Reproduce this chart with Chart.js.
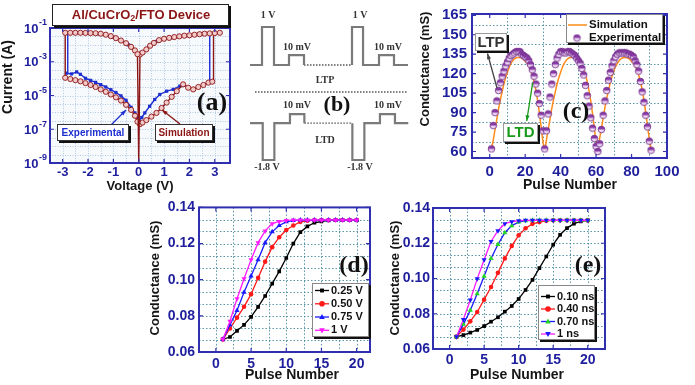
<!DOCTYPE html>
<html>
<head>
<meta charset="utf-8">
<script src="https://cdn.jsdelivr.net/npm/chart.js@4.4.1/dist/chart.umd.min.js"></script>
<style>
html, body { margin: 0; padding: 0; background: #fff; }
#fig { position: relative; width: 695px; height: 385px; overflow: hidden; }
#fig canvas { position: absolute; }
</style>
</head>
<body>
<div id="fig">
  <canvas id="pa" width="235" height="195" style="left:0;top:0"></canvas>
  <canvas id="pb" width="175" height="195" style="left:235px;top:0"></canvas>
  <canvas id="pc" width="285" height="195" style="left:410px;top:0"></canvas>
  <canvas id="pd" width="240" height="190" style="left:140px;top:195px"></canvas>
  <canvas id="pe" width="315" height="190" style="left:380px;top:195px"></canvas>
</div>
<script>
// ---- (a) I-V loop, Al/CuCrO2/FTO ----
const simUpNegV = [-2.9, -2.7, -2.5, -2.3, -2.1, -1.9, -1.7, -1.5, -1.3, -1.1, -0.9, -0.7, -0.5, -0.3, -0.15, -0.05];
const simUpNegI = [5.2e-2, 5.2e-2, 5.2e-2, 5.2e-2, 5.1e-2, 5.0e-2, 4.9e-2, 4.6e-2, 4.0e-2, 3.3e-2, 2.5e-2, 1.8e-2, 1.26e-2, 7.6e-3, 4.7e-3, 2.8e-3];
const simUpPosV = [0.05, 0.15, 0.3, 0.45, 0.6, 0.8, 1.0, 1.2, 1.4, 1.6, 1.8, 2.0, 2.2, 2.4, 2.6, 2.8, 3.0, 3.2];
const simUpPosI = [2.7e-3, 3.5e-3, 5.4e-3, 8.9e-3, 1.3e-2, 1.9e-2, 2.3e-2, 2.6e-2, 2.9e-2, 3.2e-2, 3.5e-2, 3.7e-2, 4.0e-2, 4.3e-2, 4.6e-2, 4.8e-2, 5.0e-2, 5.2e-2];
const simDipV = [-0.05, 0, 0.05];
const simDipI = [2.8e-3, 1.2e-9, 2.7e-3];
const simLowNegV = [-2.9, -2.7, -2.5, -2.3, -2.1, -1.9, -1.7, -1.5, -1.3, -1.1, -0.9, -0.7, -0.5, -0.3, -0.15, -0.05];
const simLowNegI = [1.12e-4, 9.5e-5, 8.1e-5, 6.9e-5, 5.4e-5, 4.2e-5, 3.2e-5, 2.3e-5, 1.66e-5, 1.15e-5, 7.8e-6, 5.0e-6, 2.8e-6, 1.4e-6, 6.3e-7, 2.8e-7];
const simLowPosV = [0.05, 0.15, 0.3, 0.5, 0.7, 0.9, 1.1, 1.3, 1.5, 1.75, 1.95, 2.15, 2.35, 2.55, 2.75, 2.9];
const simLowPosI = [2.0e-7, 2.5e-7, 3.5e-7, 5.6e-7, 9.3e-7, 1.8e-6, 3.8e-6, 8.3e-6, 1.8e-5, 4.6e-5, 2.9e-5, 2.3e-5, 3.2e-5, 4.2e-5, 5.8e-5, 6.6e-5];
const simJumpLV = [-2.9, -2.9], simJumpLI = [5.2e-2, 1.12e-4];
const simJumpRV = [2.95, 2.95], simJumpRI = [6.6e-5, 4.9e-2];

const expUpNegV = [-2.8, -2.5, -2.2, -1.9, -1.6, -1.3, -1.0, -0.7, -0.4, -0.15];
const expUpNegI = [5.1e-2, 5.1e-2, 5.0e-2, 4.9e-2, 4.6e-2, 3.9e-2, 2.8e-2, 1.8e-2, 1.0e-2, 4.6e-3];
const expUpPosV = [0.15, 0.4, 0.7, 1.0, 1.3, 1.6, 1.9, 2.2, 2.5, 2.8];
const expUpPosI = [3.6e-3, 8.0e-3, 1.6e-2, 2.3e-2, 2.7e-2, 3.2e-2, 3.6e-2, 4.0e-2, 4.4e-2, 4.8e-2];
const expLowNegV = [-2.85, -2.65, -2.45, -2.3, -2.1, -1.9, -1.7, -1.5, -1.3, -1.1, -0.9, -0.7, -0.5, -0.3, -0.15, 0];
const expLowNegI = [2.1e-4, 1.9e-4, 2.5e-4, 1.8e-4, 1.05e-4, 7.9e-5, 6.0e-5, 4.4e-5, 3.2e-5, 2.2e-5, 1.5e-5, 9.5e-6, 5.2e-6, 2.0e-6, 9.3e-7, 3.2e-7];
const expLowPosV = [0, 0.12, 0.24, 0.43, 0.63, 0.83, 1.1, 1.36, 1.62, 1.75, 1.95, 2.15, 2.35, 2.55, 2.8];
const expLowPosI = [3.2e-7, 5.0e-7, 9.3e-7, 2.3e-6, 5.8e-6, 1.15e-5, 1.8e-5, 2.3e-5, 3.6e-5, 4.4e-5, 2.9e-5, 2.4e-5, 3.2e-5, 4.2e-5, 6.0e-5];
const expJumpLV = [-2.8, -2.8], expJumpLI = [2.1e-4, 5.1e-2];
const expJumpRV = [2.8, 2.8], expJumpRI = [6.0e-5, 4.8e-2];

const aTicksX = [-3, -2, -1, 0, 1, 2, 3];
const aDecades = [-1, -3, -5, -7, -9];

// ---- (b) pulse scheme (time in pulse units, level in display units) ----
const ltpT1 = [1.25, 2.25, 2.25, 3.25, 3.25, 4.5, 4.5, 5.75, 5.75];
const ltpL1 = [0, 0, 1, 1, 0, 0, 0.26, 0.26, 0];
const ltpGapT = [5.75, 9.75], ltpGapL = [0, 0];
const ltpT2 = [9.75, 9.75, 10.67, 10.67, 12.0, 12.0, 13.25, 13.25, 14.42];
const ltpL2 = [0, 1, 1, 0, 0, 0.26, 0.26, 0, 0];
const ltdT1 = [1.25, 2.31, 2.31, 3.28, 3.28, 4.58, 4.58, 5.78, 5.78];
const ltdL1 = [0, 0, -0.97, -0.97, 0, 0, 0.24, 0.24, 0];
const ltdGapT = [5.78, 9.78], ltdGapL = [0, 0];
const ltdT2 = [9.78, 9.78, 10.78, 10.78, 12.08, 12.08, 13.33, 13.33, 14.44];
const ltdL2 = [0, -0.97, -0.97, 0, 0, 0.24, 0.24, 0, 0];
const LTD_OFFSET = -1.53;
const sepT = [1.67, 14.42], sepL = [-0.71, -0.71];

// ---- (c) LTP / LTD cycles ----
const pulses = Array.from({ length: 91 }, (_, i) => i + 1);
const expG = [62, 80, 90, 99, 107, 113, 118, 122, 126, 129, 132, 134, 135, 136, 137, 137, 137, 135, 134, 133, 132, 130, 127, 123, 118, 112, 105, 97, 88, 76, 62,
  76, 89, 102, 112, 120, 127, 132, 135, 137, 137, 136, 136, 137, 137, 136, 135, 134, 132, 130, 128, 124, 119, 111, 103, 95, 86, 78, 70, 64, 60,
  66, 77, 88, 99, 107, 115, 121, 126, 130, 133, 135, 136, 136, 136, 136, 136, 135, 135, 134, 133, 130, 127, 122, 114, 106, 98, 88, 79, 68, 61];
const simG = [62, 69, 77, 85, 93, 100, 106, 112, 117, 121, 125, 128, 130, 131.5, 132.3, 132.5, 132.5, 132, 131, 129.5, 128, 126, 123, 119, 114, 107.5, 99.5, 90, 79, 68, 62,
  69, 77, 85, 93, 100, 106, 112, 117, 121, 125, 128, 130, 131.5, 132.3, 132.5, 132.5, 132, 131, 129.5, 128, 126, 123, 119, 114, 107, 99, 89, 78, 68, 64,
  70, 78, 86, 94, 101, 107, 113, 118, 122, 125.5, 128, 130, 131.5, 132.3, 132.5, 132.5, 132, 131, 129.5, 128, 126, 123, 119, 114, 107.5, 99.5, 90, 79.5, 70, 62];
const cTicksX = [0, 20, 40, 60, 80, 100];
const cTicksY = [60, 75, 90, 105, 120, 135, 150, 165];
const cGridX = [10, 30, 50, 70, 90];
const cGridY = [67.5, 82.5, 97.5, 112.5, 127.5, 142.5, 157.5];

// ---- (d) pulse amplitude, (e) pulse width ----
const pulse20 = [1, 2, 3, 4, 5, 6, 7, 8, 9, 10, 11, 12, 13, 14, 15, 16, 17, 18, 19, 20];
const d025 = [0.067, 0.0683, 0.0717, 0.075, 0.0794, 0.085, 0.091, 0.0978, 0.1046, 0.112, 0.12, 0.1263, 0.1295, 0.1315, 0.1322, 0.1328, 0.133, 0.133, 0.133, 0.133];
const d050 = [0.067, 0.073, 0.079, 0.085, 0.092, 0.101, 0.110, 0.118, 0.1235, 0.1275, 0.130, 0.132, 0.1326, 0.133, 0.133, 0.133, 0.133, 0.133, 0.133, 0.133];
const d075 = [0.067, 0.075, 0.083, 0.093, 0.102, 0.111, 0.1205, 0.1265, 0.130, 0.132, 0.1328, 0.133, 0.133, 0.133, 0.133, 0.133, 0.133, 0.133, 0.133, 0.133];
const d100 = [0.067, 0.077, 0.0895, 0.1005, 0.111, 0.1205, 0.127, 0.131, 0.1322, 0.1328, 0.133, 0.133, 0.133, 0.133, 0.133, 0.133, 0.133, 0.133, 0.133, 0.133];
const e010 = [0.067, 0.0679, 0.0693, 0.0708, 0.073, 0.0755, 0.078, 0.0812, 0.0844, 0.0884, 0.0935, 0.0992, 0.1059, 0.1125, 0.1192, 0.1248, 0.1286, 0.1311, 0.1324, 0.133];
const e040 = [0.067, 0.071, 0.0757, 0.081, 0.088, 0.0952, 0.1032, 0.1114, 0.1185, 0.1245, 0.1285, 0.131, 0.132, 0.1327, 0.133, 0.133, 0.133, 0.133, 0.133, 0.133];
const e070 = [0.067, 0.074, 0.082, 0.0914, 0.1013, 0.1114, 0.1193, 0.126, 0.130, 0.132, 0.1328, 0.133, 0.133, 0.133, 0.133, 0.133, 0.133, 0.133, 0.133, 0.133];
const e100 = [0.067, 0.0768, 0.0878, 0.0998, 0.1106, 0.121, 0.1271, 0.1311, 0.1322, 0.1328, 0.133, 0.133, 0.133, 0.133, 0.133, 0.133, 0.133, 0.133, 0.133, 0.133];
const dLabels = ['0.25 V', '0.50 V', '0.75 V', '1 V'];
const eLabels = ['0.10 ns', '0.40 ns', '0.70 ns', '1 ns'];
const deTicksX = [0, 5, 10, 15, 20];
const deTicksY = [0.06, 0.08, 0.10, 0.12, 0.14];
const deGridX = [0, 2.5, 5, 7.5, 10, 12.5, 15, 17.5, 20];
const deGridY = [0.0667, 0.0733, 0.08, 0.0867, 0.0933, 0.10, 0.1067, 0.1133, 0.12, 0.1267, 0.1333];

// ---------------------------------------------------------------
const SANS = '"Liberation Sans", Arial, sans-serif';
const SERIF = '"Liberation Serif", "Times New Roman", serif';
const TICK_BLUE = '#1f1f9e';
const FRAME_BLUE = '#2f2fb0';
const TITLE = '#151515';

function pts(xs, ys, off) { return xs.map((x, i) => ({ x: x, y: ys[i] + (off || 0) })); }
function series(xs, ys, style, extra) {
  return Object.assign({ data: pts(xs, ys), showLine: true }, style, extra || {});
}

function txt(ctx, s, x, y, size, color, o) {
  o = o || {};
  ctx.save();
  ctx.font = (o.weight || 'bold') + ' ' + size + 'px ' + (o.family || SANS);
  ctx.fillStyle = color;
  ctx.textAlign = o.align || 'center';
  ctx.textBaseline = 'middle';
  if (o.rotate) { ctx.translate(x, y); ctx.rotate(o.rotate); ctx.fillText(s, 0, 0); }
  else ctx.fillText(s, x, y);
  ctx.restore();
}
function shadowBox(ctx, x, y, w, h, edge) {
  ctx.save();
  ctx.fillStyle = '#111'; ctx.fillRect(x + 2, y + 2, w, h);
  ctx.fillStyle = '#fff'; ctx.fillRect(x, y, w, h);
  ctx.strokeStyle = edge; ctx.lineWidth = 1; ctx.strokeRect(x + 0.5, y + 0.5, w - 1, h - 1);
  ctx.restore();
}
function arrow(ctx, x1, y1, x2, y2, color, w) {
  const a = Math.atan2(y2 - y1, x2 - x1), L = 6;
  ctx.save(); ctx.strokeStyle = color; ctx.fillStyle = color; ctx.lineWidth = w || 1.3;
  ctx.beginPath(); ctx.moveTo(x1, y1); ctx.lineTo(x2, y2); ctx.stroke();
  ctx.beginPath(); ctx.moveTo(x2, y2);
  ctx.lineTo(x2 - L * Math.cos(a - 0.35), y2 - L * Math.sin(a - 0.35));
  ctx.lineTo(x2 - L * Math.cos(a + 0.35), y2 - L * Math.sin(a + 0.35));
  ctx.closePath(); ctx.fill(); ctx.restore();
}
function gridLines(chart, xs, ys, color, dash) {
  const { ctx, chartArea: a, scales: { x, y } } = chart;
  ctx.save(); ctx.strokeStyle = color; ctx.lineWidth = 1; ctx.setLineDash(dash);
  ctx.beginPath();
  xs.forEach(v => { const p = Math.round(x.getPixelForValue(v)) + 0.5; ctx.moveTo(p, a.top); ctx.lineTo(p, a.bottom); });
  ys.forEach(v => { const p = Math.round(y.getPixelForValue(v)) + 0.5; ctx.moveTo(a.left, p); ctx.lineTo(a.right, p); });
  ctx.stroke(); ctx.restore();
}
function frame(chart, color, w, xt, yt) {
  const { ctx, chartArea: a, scales: { x, y } } = chart;
  ctx.save(); ctx.strokeStyle = color; ctx.lineWidth = w;
  ctx.strokeRect(a.left, a.top, a.right - a.left, a.bottom - a.top);
  ctx.lineWidth = 1.2; ctx.beginPath();
  (xt || []).forEach(v => { const p = x.getPixelForValue(v); ctx.moveTo(p, a.bottom); ctx.lineTo(p, a.bottom - 4); ctx.moveTo(p, a.top); ctx.lineTo(p, a.top + 4); });
  (yt || []).forEach(v => { const p = y.getPixelForValue(v); ctx.moveTo(a.left, p); ctx.lineTo(a.left + 4, p); ctx.moveTo(a.right, p); ctx.lineTo(a.right - 4, p); });
  ctx.stroke(); ctx.restore();
}
function marker(ctx, style, x, y, r, fill) {
  ctx.save(); ctx.fillStyle = fill; ctx.beginPath();
  if (style === 'rect') ctx.rect(x - r * 0.75, y - r * 0.75, 1.5 * r, 1.5 * r);
  else if (style === 'circle') ctx.arc(x, y, r, 0, 2 * Math.PI);
  else if (style === 'up') { ctx.moveTo(x, y - r * 1.1); ctx.lineTo(x + r, y + r * 0.7); ctx.lineTo(x - r, y + r * 0.7); }
  else { ctx.moveTo(x, y + r * 1.1); ctx.lineTo(x + r, y - r * 0.7); ctx.lineTo(x - r, y - r * 0.7); }
  ctx.closePath(); ctx.fill(); ctx.restore();
}
function halfDot(r, top, bottom, edge) {
  const c = document.createElement('canvas');
  const s = Math.ceil(2 * r + 2); c.width = c.height = s;
  const g = c.getContext('2d'), m = s / 2;
  g.beginPath(); g.arc(m, m, r, 0, 2 * Math.PI); g.fillStyle = bottom; g.fill();
  g.beginPath(); g.arc(m, m, r, Math.PI, 2 * Math.PI); g.closePath(); g.fillStyle = top; g.fill();
  g.beginPath(); g.arc(m, m, r, 0, 2 * Math.PI); g.strokeStyle = edge; g.lineWidth = 0.8; g.stroke();
  return c;
}

function linScale(min, max, ticks, size, pad, fit, fmt) {
  return {
    type: 'linear', min: min, max: max,
    afterFit: fit,
    afterBuildTicks: s => { s.ticks = ticks.map(v => ({ value: v })); },
    grid: { display: false, drawTicks: false }, border: { display: false },
    ticks: { autoSkip: false, maxRotation: 0, padding: pad, color: TICK_BLUE,
      font: { family: SANS, size: size, weight: 'bold' }, callback: fmt || (v => String(v)) }
  };
}
function baseOpts(pad, scales) {
  return {
    responsive: false, animation: false, events: [],
    layout: { padding: pad },
    plugins: { legend: { display: false }, tooltip: { enabled: false } },
    scales: scales
  };
}

// ---------------- (a) ----------------
const simStyle = { borderColor: '#8b1414', borderWidth: 1.4, pointRadius: 2.6, pointStyle: 'circle',
  pointBackgroundColor: '#f3caca', pointBorderColor: '#8b1414', pointBorderWidth: 0.9, tension: 0 };
const expStyle = { borderColor: '#1e2fd0', borderWidth: 1.4, pointRadius: 2.3, pointStyle: 'rect',
  pointBackgroundColor: '#1e2fd0', pointBorderColor: '#1e2fd0', pointBorderWidth: 0, tension: 0 };

new Chart(document.getElementById('pa'), {
  type: 'scatter',
  data: { datasets: [
    series(simUpNegV, simUpNegI, simStyle),
    series(simUpPosV, simUpPosI, simStyle),
    series(simDipV, simDipI, simStyle, { pointRadius: 0 }),
    series(simLowNegV, simLowNegI, simStyle),
    series(simLowPosV, simLowPosI, simStyle),
    series(simJumpLV, simJumpLI, simStyle, { pointRadius: 0 }),
    series(simJumpRV, simJumpRI, simStyle, { pointRadius: 0 }),
    series(expUpNegV, expUpNegI, expStyle),
    series(expUpPosV, expUpPosI, expStyle),
    series(expLowNegV, expLowNegI, expStyle),
    series(expLowPosV, expLowPosI, expStyle),
    series(expJumpLV, expJumpLI, expStyle, { pointRadius: 0 }),
    series(expJumpRV, expJumpRI, expStyle, { pointRadius: 0 })
  ] },
  options: baseOpts({ top: 28, right: 5, left: 0, bottom: 0 }, {
    x: linScale(-3.5, 3.6, aTicksX, 13, 2, s => { s.height = 32; }),
    y: { type: 'logarithmic', min: 1e-9, max: 1e-1, afterFit: s => { s.width = 50; },
      grid: { display: false, drawTicks: false }, border: { display: false }, ticks: { display: false } }
  }),
  plugins: [{
    id: 'decorA',
    beforeDatasetsDraw(chart) {
      const { ctx, chartArea: a } = chart;
      ctx.save(); ctx.fillStyle = '#f7fafd'; ctx.fillRect(a.left, a.top, a.right - a.left, a.bottom - a.top); ctx.restore();
      const gx = [], gy = [];
      for (let v = -3; v <= 3; v += 0.5) gx.push(v);
      for (let k = -17; k <= -3; k++) gy.push(Math.pow(10, k / 2));
      gridLines(chart, gx, gy, '#b3c9e3', [1, 1.5]);
    },
    afterDraw(chart) {
      const { ctx, scales: { y } } = chart;
      frame(chart, FRAME_BLUE, 2, aTicksX, aDecades.map(k => Math.pow(10, k)));
      aDecades.forEach(k => {
        const py = y.getPixelForValue(Math.pow(10, k));
        ctx.save(); ctx.font = 'bold 9px ' + SANS; const ew = ctx.measureText(String(k)).width; ctx.restore();
        txt(ctx, String(k), 47, py - 5, 9, TICK_BLUE, { align: 'right' });
        txt(ctx, '10', 47 - ew - 0.5, py + 1, 13, TICK_BLUE, { align: 'right' });
      });
      txt(ctx, 'Current (A)', 8, 77, 14, TITLE, { rotate: -Math.PI / 2 });
      txt(ctx, 'Voltage (V)', 140, 186, 13, TITLE);
      // title box
      shadowBox(ctx, 52, 4, 177, 22, '#222');
      ctx.save();
      ctx.font = 'bold 13px ' + SANS; const w1 = ctx.measureText('Al/CuCrO').width, w3 = ctx.measureText('/FTO Device').width;
      ctx.font = 'bold 9px ' + SANS; const w2 = ctx.measureText('2').width;
      ctx.restore();
      const x0 = 141 - (w1 + w2 + w3) / 2;
      txt(ctx, 'Al/CuCrO', x0, 15, 13, '#8b1414', { align: 'left' });
      txt(ctx, '2', x0 + w1, 19, 9, '#8b1414', { align: 'left' });
      txt(ctx, '/FTO Device', x0 + w1 + w2, 15, 13, '#8b1414', { align: 'left' });
      // callouts
      arrow(ctx, 111, 125, 126, 110, '#1e2fd0');
      arrow(ctx, 180, 124, 162, 110, '#8b1414');
      shadowBox(ctx, 57, 124, 72, 17, '#333');
      txt(ctx, 'Experimental', 93, 133, 10, '#1e2fd0');
      shadowBox(ctx, 155, 124, 58, 17, '#333');
      txt(ctx, 'Simulation', 184, 133, 10, '#8b1414');
      txt(ctx, '(a)', 212, 103, 26, '#111', { family: SERIF });
    }
  }]
});

// ---------------- (b) ----------------
const waveStyle = { borderColor: '#7a7a7a', borderWidth: 2.2, pointRadius: 0, tension: 0, borderJoinStyle: 'miter' };
const dotStyle = { borderColor: '#555', borderWidth: 1.4, pointRadius: 0, borderDash: [1.5, 1.5] };
new Chart(document.getElementById('pb'), {
  type: 'scatter',
  data: { datasets: [
    series(ltpT1, ltpL1, waveStyle),
    series(ltpGapT, ltpGapL, dotStyle),
    series(ltpT2, ltpL2, waveStyle),
    { data: pts(ltdT1, ltdL1, LTD_OFFSET), showLine: true, ...waveStyle },
    { data: pts(ltdGapT, ltdGapL, LTD_OFFSET), showLine: true, ...dotStyle },
    { data: pts(ltdT2, ltdL2, LTD_OFFSET), showLine: true, ...waveStyle },
    series(sepT, sepL, dotStyle)
  ] },
  options: baseOpts(0, {
    x: { type: 'linear', display: false, min: 0, max: 175 / 12 },
    y: { type: 'linear', display: false, min: -3.421, max: 1.711 }
  }),
  plugins: [{
    id: 'decorB',
    afterDraw(chart) {
      const ctx = chart.ctx, c = '#333', F = { family: SERIF };
      txt(ctx, '1 V', 33, 15, 10, c, F);
      txt(ctx, '1 V', 125, 15, 10, c, F);
      txt(ctx, '10 mV', 62, 47, 10, c, F);
      txt(ctx, '10 mV', 153, 47, 10, c, F);
      txt(ctx, 'LTP', 90, 80, 10, c, F);
      txt(ctx, '10 mV', 62, 105, 10, c, F);
      txt(ctx, '10 mV', 153, 105, 10, c, F);
      txt(ctx, '(b)', 102, 105, 22, '#111', F);
      txt(ctx, 'LTD', 90, 140, 10, c, F);
      txt(ctx, '-1.8 V', 32, 167, 10, c, F);
      txt(ctx, '-1.8 V', 125, 167, 10, c, F);
    }
  }]
});

// ---------------- (c) ----------------
const purpleDot = halfDot(3.3, '#8a3aa6', '#ecd6f2', '#6a2484');
new Chart(document.getElementById('pc'), {
  type: 'scatter',
  data: { datasets: [
    { data: pts(pulses, expG), showLine: false, pointStyle: purpleDot, pointRadius: 3.3 },
    { data: pts(pulses, simG), showLine: true, borderColor: '#ff8c1a', borderWidth: 1.5, pointRadius: 0,
      tension: 0.4, cubicInterpolationMode: 'monotone' }
  ] },
  options: baseOpts({ top: 13, right: 28, left: 0, bottom: 0 }, {
    x: linScale(-10, 100, cTicksX, 15, 5, s => { s.height = 37; }),
    y: linScale(55, 166, cTicksY, 15, 5, s => { s.width = 62; })
  }),
  plugins: [{
    id: 'decorC',
    beforeDatasetsDraw(chart) { gridLines(chart, cGridX, cGridY, 'rgba(60,130,150,0.85)', [1.5, 2]); },
    afterDraw(chart) {
      const ctx = chart.ctx;
      frame(chart, FRAME_BLUE, 2, cTicksX, cTicksY);
      txt(ctx, 'Conductance (mS)', 15, 69, 13, TITLE, { rotate: -Math.PI / 2 });
      txt(ctx, 'Pulse Number', 160, 185, 14, TITLE);
      // legend
      shadowBox(ctx, 156, 14, 97, 29, '#888');
      ctx.save(); ctx.strokeStyle = '#ff8c1a'; ctx.lineWidth = 1.5;
      ctx.beginPath(); ctx.moveTo(158, 25); ctx.lineTo(177, 25); ctx.stroke(); ctx.restore();
      txt(ctx, 'Simulation', 179, 25, 11.5, '#111', { align: 'left' });
      ctx.drawImage(purpleDot, 167 - purpleDot.width / 2, 38 - purpleDot.height / 2);
      txt(ctx, 'Experimental', 179, 38, 11.5, '#111', { align: 'left' });
      txt(ctx, '(c)', 166, 112, 24, '#111', { family: SERIF });
      // callouts
      arrow(ctx, 87, 88, 77.5, 53.5, '#444');
      shadowBox(ctx, 65, 33, 32, 18, '#999');
      txt(ctx, 'LTP', 81, 42.5, 15, '#333');
      arrow(ctx, 122.7, 82.7, 116.7, 121, '#1a9a1a');
      shadowBox(ctx, 93, 123, 35, 19, '#999');
      txt(ctx, 'LTD', 110.5, 133, 15, '#1a9a1a');
    }
  }]
});

// ---------------- (d) & (e) ----------------
function curve(ys, line, shape, fill, r) {
  const ps = { rect: 'rect', circle: 'circle', up: 'triangle', down: 'triangle' }[shape];
  return { data: pts(pulse20, ys), showLine: true, borderColor: line, borderWidth: 1.3, tension: 0,
    pointStyle: ps, pointRotation: shape === 'down' ? 180 : 0, pointRadius: r,
    pointBackgroundColor: fill, pointBorderColor: fill, pointBorderWidth: 0 };
}
function legendBox(ctx, x, y, w, h, rows, labels, items) {
  shadowBox(ctx, x, y, w, h, '#888');
  items.forEach((it, i) => {
    const ry = rows[i];
    ctx.save(); ctx.strokeStyle = it.line; ctx.lineWidth = 1.3;
    ctx.beginPath(); ctx.moveTo(x + 3, ry); ctx.lineTo(x + 17, ry); ctx.stroke(); ctx.restore();
    marker(ctx, it.shape, x + 10, ry, it.shape === 'rect' ? 2.6 : 2.8, it.fill);
    txt(ctx, labels[i], x + 19, ry, 11, '#111', { align: 'left' });
  });
}
const fmt2 = v => v.toFixed(2);
const dItems = [
  { ys: d025, line: '#000', shape: 'rect', fill: '#000', r: 2.6 },
  { ys: d050, line: '#ff1a1a', shape: 'circle', fill: '#ff1a1a', r: 2.3 },
  { ys: d075, line: '#1a1aff', shape: 'up', fill: '#1a1aff', r: 3 },
  { ys: d100, line: '#ff1aff', shape: 'down', fill: '#ff1aff', r: 3 }
];
const eItems = [
  { ys: e010, line: '#000', shape: 'rect', fill: '#000', r: 2.6 },
  { ys: e040, line: '#ff1a1a', shape: 'circle', fill: '#ff1a1a', r: 2.3 },
  { ys: e070, line: '#1a1aff', shape: 'up', fill: '#22d622', r: 3 },
  { ys: e100, line: '#ff1aff', shape: 'down', fill: '#1a1aff', r: 3 }
];

new Chart(document.getElementById('pd'), {
  type: 'scatter',
  data: { datasets: dItems.map(it => curve(it.ys, it.line, it.shape, it.fill, it.r)).reverse() },
  options: baseOpts({ top: 12, right: 10, left: 0, bottom: 0 }, {
    x: linScale(-2.4, 21.9, deTicksX, 14, 4, s => { s.height = 33; }),
    y: linScale(0.06, 0.14, deTicksY, 14, 4, s => { s.width = 59; }, fmt2)
  }),
  plugins: [{
    id: 'decorD',
    beforeDatasetsDraw(chart) { gridLines(chart, deGridX, deGridY, 'rgba(60,130,150,0.85)', [1.5, 2]); },
    afterDraw(chart) {
      const ctx = chart.ctx;
      frame(chart, FRAME_BLUE, 2, deTicksX, deTicksY);
      txt(ctx, 'Conductance (mS)', 15, 83, 13, TITLE, { rotate: -Math.PI / 2 });
      txt(ctx, 'Pulse Number', 152, 180, 14, TITLE);
      txt(ctx, '(d)', 214, 71, 24, '#111', { family: SERIF });
      legendBox(ctx, 172, 88, 57, 54, [95.5, 108.8, 122, 135.3], dLabels, dItems);
    }
  }]
});

new Chart(document.getElementById('pe'), {
  type: 'scatter',
  data: { datasets: eItems.map(it => curve(it.ys, it.line, it.shape, it.fill, it.r)).reverse() },
  options: baseOpts({ top: 13, right: 90, left: 0, bottom: 0 }, {
    x: linScale(-2.4, 22.5, deTicksX, 14, 3, s => { s.height = 36; }),
    y: linScale(0.06, 0.14, deTicksY, 14, 3, s => { s.width = 53; }, fmt2)
  }),
  plugins: [{
    id: 'decorE',
    beforeDatasetsDraw(chart) { gridLines(chart, deGridX, deGridY, 'rgba(60,130,150,0.85)', [1.5, 2]); },
    afterDraw(chart) {
      const ctx = chart.ctx;
      frame(chart, FRAME_BLUE, 2, deTicksX, deTicksY);
      txt(ctx, 'Conductance (mS)', 15, 83, 13, TITLE, { rotate: -Math.PI / 2 });
      txt(ctx, 'Pulse Number', 137, 180, 14, TITLE);
      txt(ctx, '(e)', 208, 71, 24, '#111', { family: SERIF });
      legendBox(ctx, 158, 90, 57, 55, [101.5, 114, 126.5, 139], eLabels, eItems);
    }
  }]
});
</script>
</body>
</html>
